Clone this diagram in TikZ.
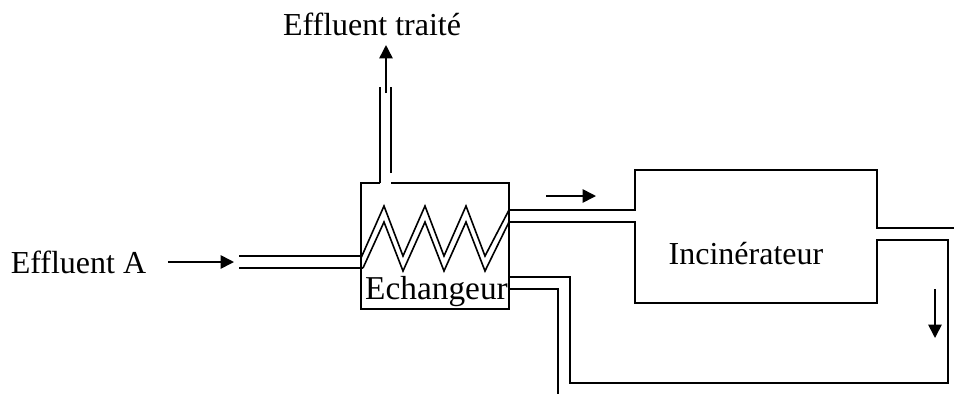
\documentclass[tikz,border=0pt]{standalone}
\usepackage{fontspec}
\setmainfont{Liberation Serif}
\usetikzlibrary{arrows.meta}

\begin{document}
\begin{tikzpicture}
    [
      x = 0.75pt, y = -0.75pt,
      pipe/.style = {line width = 1.2pt, line join = miter},
      flow/.style = {line width = 1.2pt, -{Triangle[length = 10pt, width = 10pt]}},
      label/.style = {inner sep = 0pt, font = \fontsize{24}{24}\selectfont}
    ]
    \path [use as bounding box] (0,0) rectangle (954,394);

    \node [label] (traite) at (372,24) {Effluent traité};
    \node [label] (effluent) at (78.5,262) {Effluent A};
    \node [label, font = \fontsize{25}{25}\selectfont] (echangeur) at (436.5,292) {Echangeur};
    \node [label] (incinerateur) at (746,254) {Incinérateur};

    \coordinate (inA) at (239,256);
    \coordinate (inB) at (239,268);
    \coordinate (inTip) at (234,262);
    \coordinate (boxA) at (380,183);
    \coordinate (boxB) at (391,183);
    \coordinate (ventA) at (380,87);
    \coordinate (ventB) at (391,87);
    \coordinate (ventC) at (391,173);
    \coordinate (ventTail) at (386,93);
    \coordinate (coilInA) at (361,258);
    \coordinate (coilInB) at (363,268);
    \coordinate (coilOutA) at (509,210);
    \coordinate (coilOutB) at (509,222);
    \coordinate (loopA) at (509,277);
    \coordinate (loopB) at (509,289);

    \draw [pipe] (boxA) -- (ventA);
    \draw [pipe] (ventC) -- (ventB);
    \draw [flow, shorten >= 7pt] (ventTail) -- (ventTail |- traite.south);
    \draw [flow, shorten <= 16pt] (effluent.east) -- (inTip);
    \draw [pipe] (inA) -- (361,256);
    \draw [pipe] (inB) -- (coilInB);

    \draw [pipe] (boxA) -- (361,183) -- (361,309) -- (509,309) -- (509,183) -- (boxB);

    \draw [pipe] (coilInA) -- (384,206) -- (403,256) -- (425,206) -- (444,256) -- (466,206) -- (485,256) -- (coilOutA);
    \draw [pipe] (coilInB) -- (384,222) -- (403,271) -- (425,222) -- (444,271) -- (466,222) -- (485,271) -- (coilOutB);

    \draw [pipe] (coilOutA) -- (635,210) -- (635,170) -- (877,170) -- (877,228) -- (954,228);
    \draw [pipe] (coilOutB) -- (635,222) -- (635,303) -- (877,303) -- (877,240) -- (948,240)
        -- (948,383) -- (570,383) -- (570,277) -- (loopA);
    \draw [pipe] (loopB) -- (558,289) -- (558,394);

    \coordinate (hotTail) at (546,196);
    \coordinate (hotTip) at (596,196);
    \coordinate (backTail) at (935,289);
    \coordinate (backTip) at (935,338);
    \draw [flow] (hotTail) -- (hotTip);
    \draw [flow] (backTail) -- (backTip);
\end{tikzpicture}
\end{document}
